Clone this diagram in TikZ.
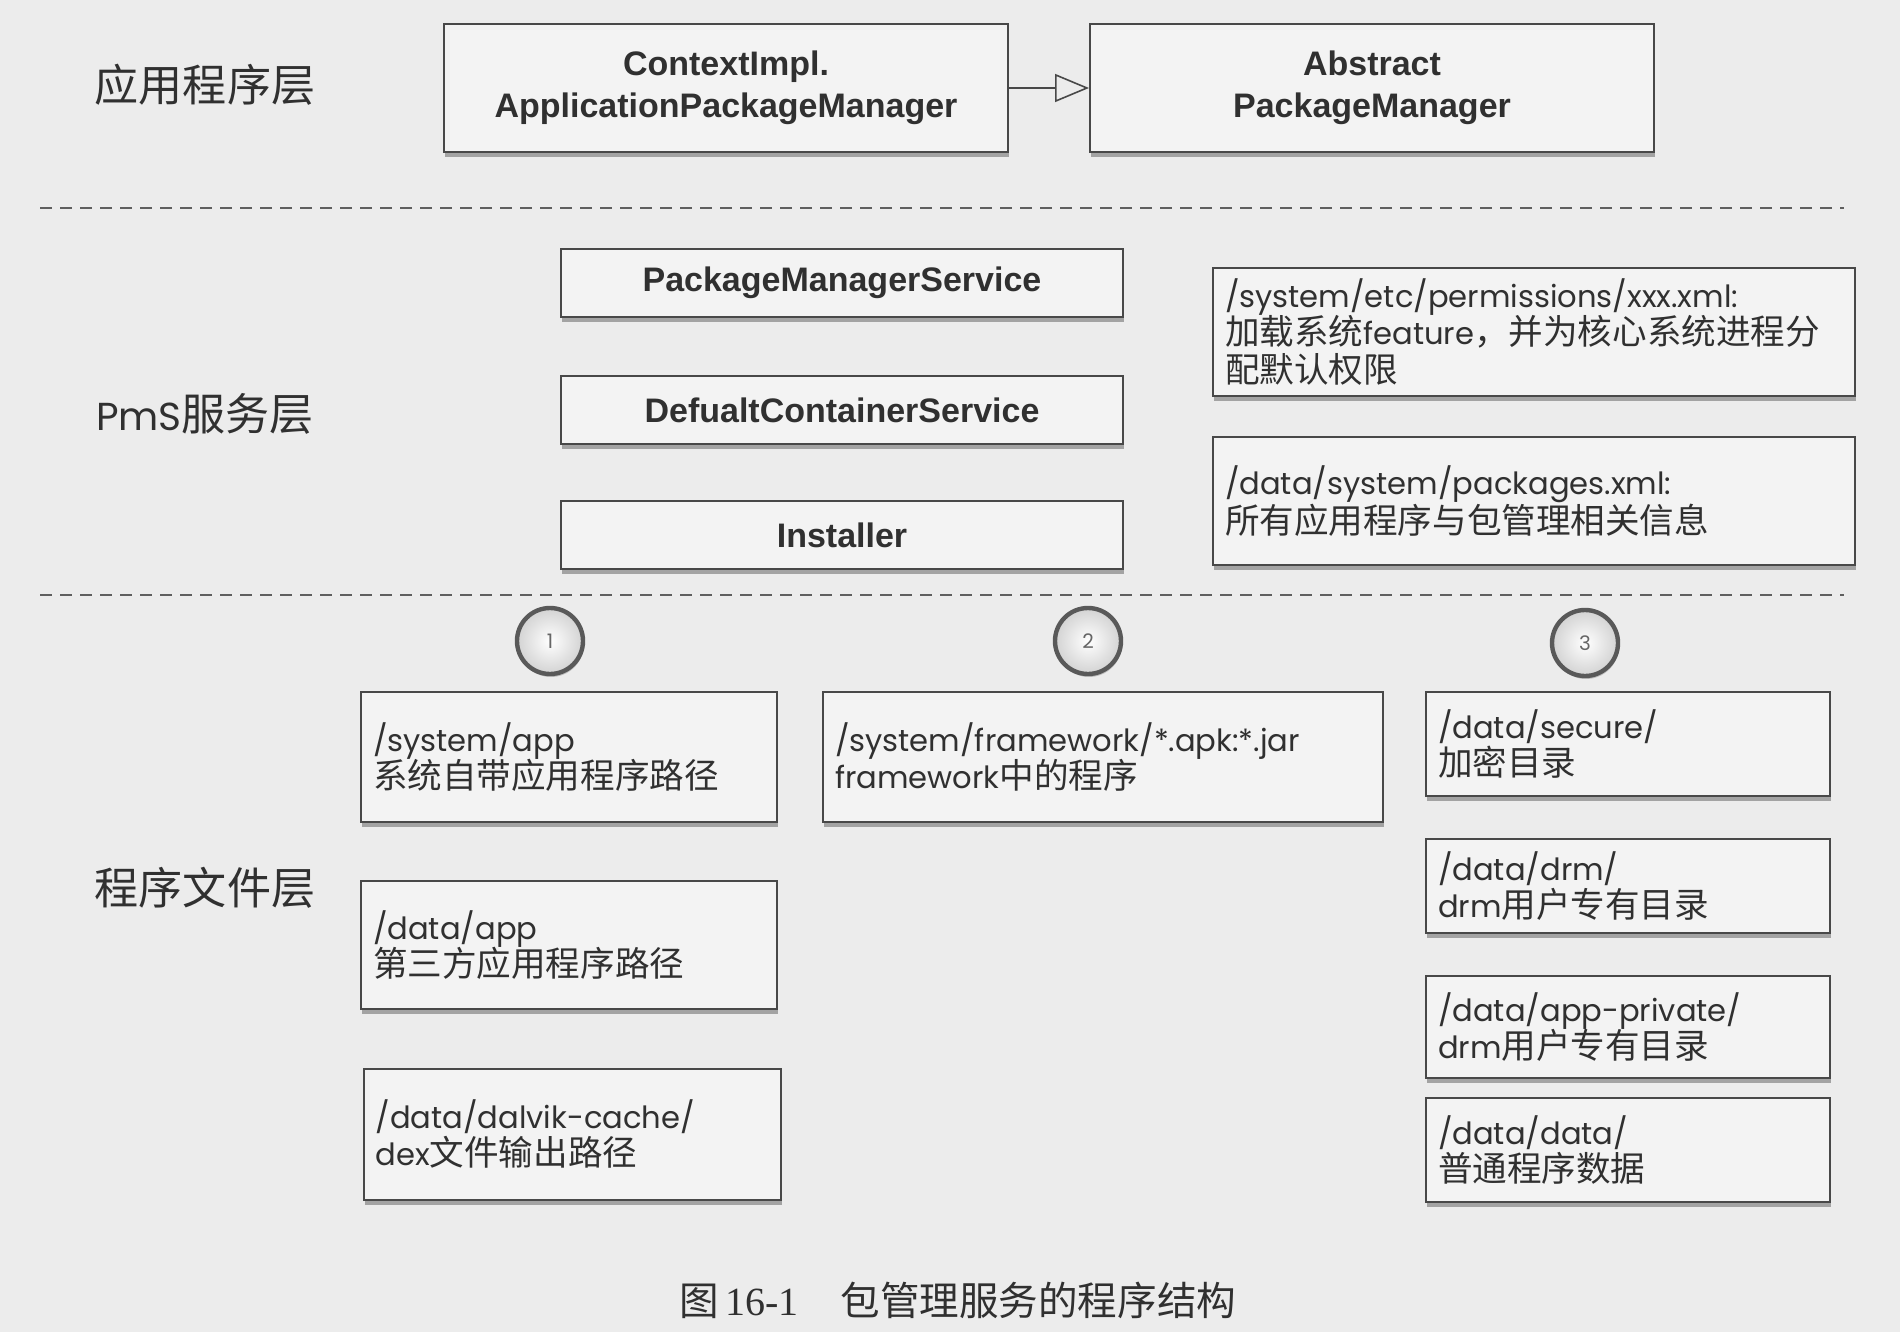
\documentclass[tikz,border=0pt]{standalone}
\usepackage{fontspec}
\setmainfont{Poppins}
\newfontfamily\classfont{Liberation Sans}
\newfontfamily\zh[Scale=1.13]{Noto Sans CJK SC}
\newfontfamily\capnum{Liberation Serif}
\usetikzlibrary{arrows.meta,shadows}

\definecolor{bgcol}{RGB}{236,236,236}
\definecolor{boxfill}{RGB}{243,243,243}
\definecolor{boxline}{RGB}{72,72,72}
\definecolor{inkcol}{RGB}{48,48,48}
\definecolor{sepcol}{RGB}{95,95,95}

\tikzset{
  boxshadow/.style={drop shadow={shadow xshift=0.5pt, shadow yshift=-2.5pt, opacity=0.45, fill=black!70}},
  classbox/.style={draw=boxline, line width=1pt, fill=boxfill, boxshadow,
    text=inkcol, align=center, inner sep=0pt,
    font=\classfont\bfseries\fontsize{17}{21}\selectfont},
  pathbox/.style={draw=boxline, line width=1pt, fill=boxfill, boxshadow,
    text=inkcol, align=left, inner xsep=6pt, inner ysep=0pt,
    font=\fontsize{15.3}{18.8}\selectfont},
  layerlabel/.style={text=inkcol, font=\fontsize{19.5}{24}\selectfont},
  badge/.style={circle, minimum size=33pt, inner sep=0pt, draw=black!65,
    line width=2.2pt, shading=radial, inner color=white, outer color=gray!35,
    drop shadow={shadow xshift=0.5pt, shadow yshift=-1.5pt, opacity=0.35, fill=black!60},
    text=black!60, font=\fontsize{10}{12}\selectfont},
  separator/.style={draw=sepcol, line width=0.9pt, dash pattern=on 6pt off 4pt},
  inherit/.style={draw=boxline, line width=0.8pt,
    -{Triangle[open, length=17pt, width=14pt, line width=0.8pt]}}
}

\begin{document}
\lineskiplimit=-20pt
\begin{tikzpicture}[x=0.5pt, y=-0.5pt]
  % page background
  \fill[bgcol] (0,0) rectangle (1900,1332);
  \useasboundingbox (0,0) rectangle (1900,1332);

  % layer titles
  \node[layerlabel] (appLayer) at (205,85)  {{\zh 应用程序层}};
  \node[layerlabel] (pmsLayer) at (205,414) {PmS{\zh 服务层}};
  \node[layerlabel] (fileLayer) at (205,888) {{\zh 程序文件层}};

  % layer separators
  \draw[separator] (40,208) -- (1844,208);
  \draw[separator] (40,595) -- (1844,595);

  % application layer
  \node[classbox, minimum width=282pt, minimum height=64pt] (ctx) at (726,88)
    {ContextImpl.\\ApplicationPackageManager};
  \node[classbox, minimum width=282pt, minimum height=64pt] (apm) at (1372,88)
    {Abstract\\PackageManager};
  \draw[inherit] (ctx.east) -- (apm.west);

  % service layer
  \node[classbox, minimum width=281pt, minimum height=34pt] (pms) at (842,283)
    {PackageManagerService};
  \node[classbox, minimum width=281pt, minimum height=34pt] (dcs) at (842,410)
    {DefualtContainerService};
  \node[classbox, minimum width=281pt, minimum height=34pt] (inst) at (842,535)
    {Installer};

  \node[pathbox, text width=309pt, minimum height=64pt] (perm) at (1534,332)
    {/system/etc/permissions/xxx.xml:\\
     \mbox{{\zh 加载系统}feature{\zh ，并为核心系统进程分}}\\
     {\zh 配默认权限}};
  \node[pathbox, text width=309pt, minimum height=64pt] (pkgxml) at (1534,501)
    {/data/system/packages.xml:\\
     {\zh 所有应用程序与包管理相关信息}};

  % program file layer
  \node[badge] (b1) at (550,641)  {1};
  \node[badge] (b2) at (1088,641) {2};
  \node[badge] (b3) at (1585,643) {3};

  \node[pathbox, text width=196pt, minimum height=65pt] (sysapp) at (569,757)
    {/system/app\\{\zh 系统自带应用程序路径}};
  \node[pathbox, text width=196pt, minimum height=64pt] (dataapp) at (569,945)
    {/data/app\\{\zh 第三方应用程序路径}};
  \node[pathbox, text width=196.5pt, minimum height=65.5pt] (dalvik) at (572,1134)
    {/data/dalvik-cache/\\dex{\zh 文件输出路径}};

  \node[pathbox, text width=268pt, minimum height=65pt] (fw) at (1103,757)
    {/system/framework/*.apk:*.jar\\framework{\zh 中的程序}};

  \node[pathbox, text width=190pt, minimum height=52pt] (secure) at (1628,744)
    {/data/secure/\\{\zh 加密目录}};
  \node[pathbox, text width=190pt, minimum height=47pt] (drm) at (1628,886)
    {/data/drm/\\drm{\zh 用户专有目录}};
  \node[pathbox, text width=190pt, minimum height=51pt] (apppriv) at (1628,1027)
    {/data/app-private/\\drm{\zh 用户专有目录}};
  \node[pathbox, text width=190pt, minimum height=52pt] (datadata) at (1628,1150)
    {/data/data/\\{\zh 普通程序数据}};

  % caption
  \node[text=inkcol, font=\fontsize{17.5}{20}\selectfont] (caption) at (958,1300)
    {{\zh 图}\,{\capnum\fontsize{20}{22}\selectfont 16-1}\hspace{1.2em}{\zh 包管理服务的程序结构}};
\end{tikzpicture}
\end{document}
